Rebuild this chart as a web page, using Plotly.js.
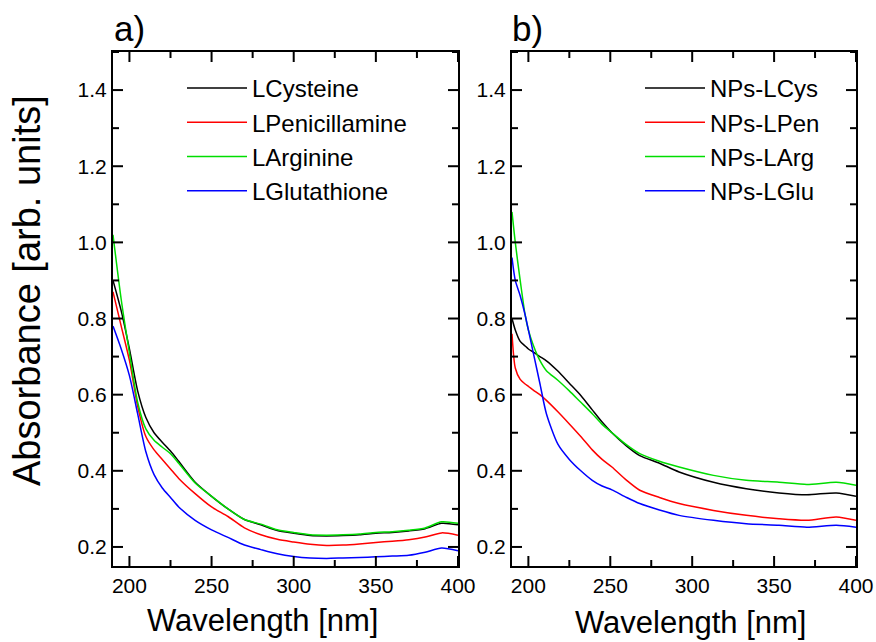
<!DOCTYPE html>
<html>
<head>
<meta charset="utf-8">
<script src="https://cdn.plot.ly/plotly-3.0.1.min.js"></script>
<style>html,body{margin:0;padding:0;background:#fff;}#chart{width:876px;height:642px;}</style>
</head>
<body>
<div id="chart"></div>
<script>
// ---- Panel a data ----
const wlA = [190,195,200,205,210,215,220,225,230,240,250,260,270,280,290,300,310,320,330,340,350,360,370,380,390,400];
const namesA = ["LCysteine","LPenicillamine","LArginine","LGlutathione"];
const lCysteine      = [0.90,0.82,0.72,0.61,0.54,0.50,0.475,0.452,0.425,0.37,0.333,0.30,0.272,0.258,0.243,0.236,0.230,0.229,0.230,0.232,0.236,0.238,0.242,0.248,0.262,0.258];
const lPenicillamine = [0.87,0.78,0.69,0.57,0.49,0.455,0.43,0.405,0.38,0.34,0.305,0.28,0.25,0.232,0.22,0.213,0.207,0.204,0.205,0.208,0.212,0.215,0.219,0.226,0.237,0.231];
const lArginine      = [1.02,0.85,0.71,0.58,0.51,0.48,0.462,0.445,0.42,0.368,0.333,0.30,0.272,0.26,0.245,0.238,0.232,0.231,0.232,0.234,0.238,0.24,0.244,0.25,0.266,0.262];
const lGlutathione   = [0.78,0.72,0.65,0.55,0.45,0.39,0.355,0.33,0.305,0.27,0.245,0.225,0.205,0.193,0.182,0.175,0.171,0.170,0.171,0.172,0.174,0.176,0.178,0.186,0.197,0.190];

// ---- Panel b data ----
const wlB = [190,192,195,198,200,203,207,211,218,225,232,239,245,251,260,268,280,292,313,333,353,370,388,400];
const namesB = ["NPs-LCys","NPs-LPen","NPs-LArg","NPs-LGlu"];
const npsLCys = [0.80,0.77,0.74,0.728,0.72,0.712,0.70,0.689,0.662,0.63,0.598,0.56,0.528,0.50,0.465,0.44,0.42,0.397,0.37,0.353,0.342,0.337,0.342,0.333];
const npsLPen = [0.76,0.67,0.64,0.628,0.622,0.612,0.60,0.585,0.555,0.523,0.49,0.455,0.43,0.41,0.375,0.349,0.33,0.314,0.296,0.283,0.274,0.27,0.279,0.27];
const npsLArg = [1.08,1.00,0.90,0.81,0.77,0.73,0.69,0.663,0.638,0.61,0.58,0.55,0.522,0.50,0.468,0.445,0.425,0.41,0.388,0.375,0.37,0.364,0.37,0.362];
const npsLGlu = [0.96,0.90,0.86,0.81,0.77,0.71,0.63,0.55,0.47,0.43,0.40,0.375,0.36,0.35,0.33,0.314,0.297,0.283,0.27,0.261,0.257,0.252,0.257,0.252];

// ---- Axis ranges and tick values ----
const xRange = [190, 400];
const yRange = [0.15, 1.5];
const xMajor = [200,250,300,350,400];
const xMinor = [225,275,325,375];
const yMajor = [0.2,0.4,0.6,0.8,1.0,1.2,1.4];
const yMinor = [0.3,0.5,0.7,0.9,1.1,1.3,1.5];
const yTickText = ["0.2","0.4","0.6","0.8","1.0","1.2","1.4"];

const colors = ["#000000","#ff0000","#00dd00","#0000ff"];

const W = 876, H = 642;
const ML = 113, MR = 20, MT = 52, MB = 76;
const PW = W - ML - MR, PH = H - MT - MB;
const px = v => (v - ML) / PW;
const py = v => (H - MB - v) / PH;
const FONT = "Liberation Sans, Arial, sans-serif";

const seriesA = [lCysteine, lPenicillamine, lArginine, lGlutathione];
const seriesB = [npsLCys, npsLPen, npsLArg, npsLGlu];

const traces = [];
seriesA.forEach((s, i) => traces.push({x: wlA, y: s, name: namesA[i], type: "scatter", mode: "lines",
  line: {color: colors[i], width: 1.5, shape: "spline", smoothing: 0.7}, xaxis: "x", yaxis: "y", legend: "legend"}));
seriesB.forEach((s, i) => traces.push({x: wlB, y: s, name: namesB[i], type: "scatter", mode: "lines",
  line: {color: colors[i], width: 1.5, shape: "spline", smoothing: 0.7}, xaxis: "x2", yaxis: "y2", legend: "legend2"}));

// Inside tick marks on all four sides, built from the tick arrays and the axis scales
function tickTrace(xa, ya, plotWidthPx) {
  const dxPerPx = (xRange[1] - xRange[0]) / plotWidthPx;
  const dyPerPx = (yRange[1] - yRange[0]) / PH;
  const X = [], Y = [];
  const seg = (x0, y0, x1, y1) => { X.push(x0, x1, null); Y.push(y0, y1, null); };
  [[xMajor, 10], [xMinor, 6]].forEach(([vals, len]) => vals.forEach(v => {
    seg(v, yRange[0], v, yRange[0] + len * dyPerPx);
    seg(v, yRange[1], v, yRange[1] - len * dyPerPx);
  }));
  [[yMajor, 10], [yMinor, 6]].forEach(([vals, len]) => vals.forEach(v => {
    seg(xRange[0], v, xRange[0] + len * dxPerPx, v);
    seg(xRange[1], v, xRange[1] - len * dxPerPx, v);
  }));
  return {x: X, y: Y, type: "scatter", mode: "lines", line: {color: "#000", width: 2},
    xaxis: xa, yaxis: ya, showlegend: false, hoverinfo: "skip", cliponaxis: false, connectgaps: false};
}
traces.push(tickTrace("x", "y", 458 - 113));
traces.push(tickTrace("x2", "y2", 856 - 512));

function xAxis(domain, anchor) {
  return {domain: domain, anchor: anchor, range: xRange, tickmode: "array", tickvals: xMajor,
    ticks: "", showline: true, linecolor: "#000", linewidth: 2, mirror: true,
    showgrid: false, zeroline: false,
    tickfont: {family: FONT, size: 21, color: "#000"}};
}
function yAxis(domain, anchor) {
  return {domain: domain, anchor: anchor, range: yRange, tickmode: "array", tickvals: yMajor, ticktext: yTickText,
    ticks: "", showline: true, linecolor: "#000", linewidth: 2, mirror: true,
    showgrid: false, zeroline: false,
    tickfont: {family: FONT, size: 21, color: "#000"}};
}

const legendBase = {font: {family: FONT, size: 24, color: "#000"}, bgcolor: "rgba(0,0,0,0)",
  borderwidth: 0, itemwidth: 60, tracegroupgap: 0, xanchor: "left", yanchor: "top"};

const layout = {
  width: W, height: H, margin: {l: ML, r: MR, t: MT, b: MB, autoexpand: false},
  paper_bgcolor: "#fff", plot_bgcolor: "rgba(0,0,0,0)", showlegend: true,
  font: {family: FONT, color: "#000"},
  xaxis: xAxis([px(113), px(458)], "y"),
  yaxis: yAxis([0, 1], "x"),
  xaxis2: xAxis([px(512), px(856)], "y2"),
  yaxis2: yAxis([0, 1], "x2"),
  legend: Object.assign({}, legendBase, {x: px(182), y: py(66)}),
  legend2: Object.assign({}, legendBase, {x: px(640), y: py(66)}),
  annotations: [
    {text: "a)", xref: "paper", yref: "paper", x: px(112), y: py(29), xanchor: "left", yanchor: "middle",
     showarrow: false, font: {family: FONT, size: 35, color: "#000"}},
    {text: "b)", xref: "paper", yref: "paper", x: px(510), y: py(29), xanchor: "left", yanchor: "middle",
     showarrow: false, font: {family: FONT, size: 35, color: "#000"}},
    {text: "Wavelength [nm]", xref: "paper", yref: "paper", x: px(262), y: py(620), xanchor: "center", yanchor: "middle",
     showarrow: false, font: {family: FONT, size: 31, color: "#000"}},
    {text: "Wavelength [nm]", xref: "paper", yref: "paper", x: px(690), y: py(622), xanchor: "center", yanchor: "middle",
     showarrow: false, font: {family: FONT, size: 31, color: "#000"}},
    {text: "Absorbance [arb. units]", xref: "paper", yref: "paper", x: px(27), y: py(291), xanchor: "center", yanchor: "middle",
     textangle: -90, showarrow: false, font: {family: FONT, size: 38, color: "#000"}}
  ]
};

Plotly.newPlot("chart", traces, layout, {displayModeBar: false, staticPlot: true});
</script>
</body>
</html>
